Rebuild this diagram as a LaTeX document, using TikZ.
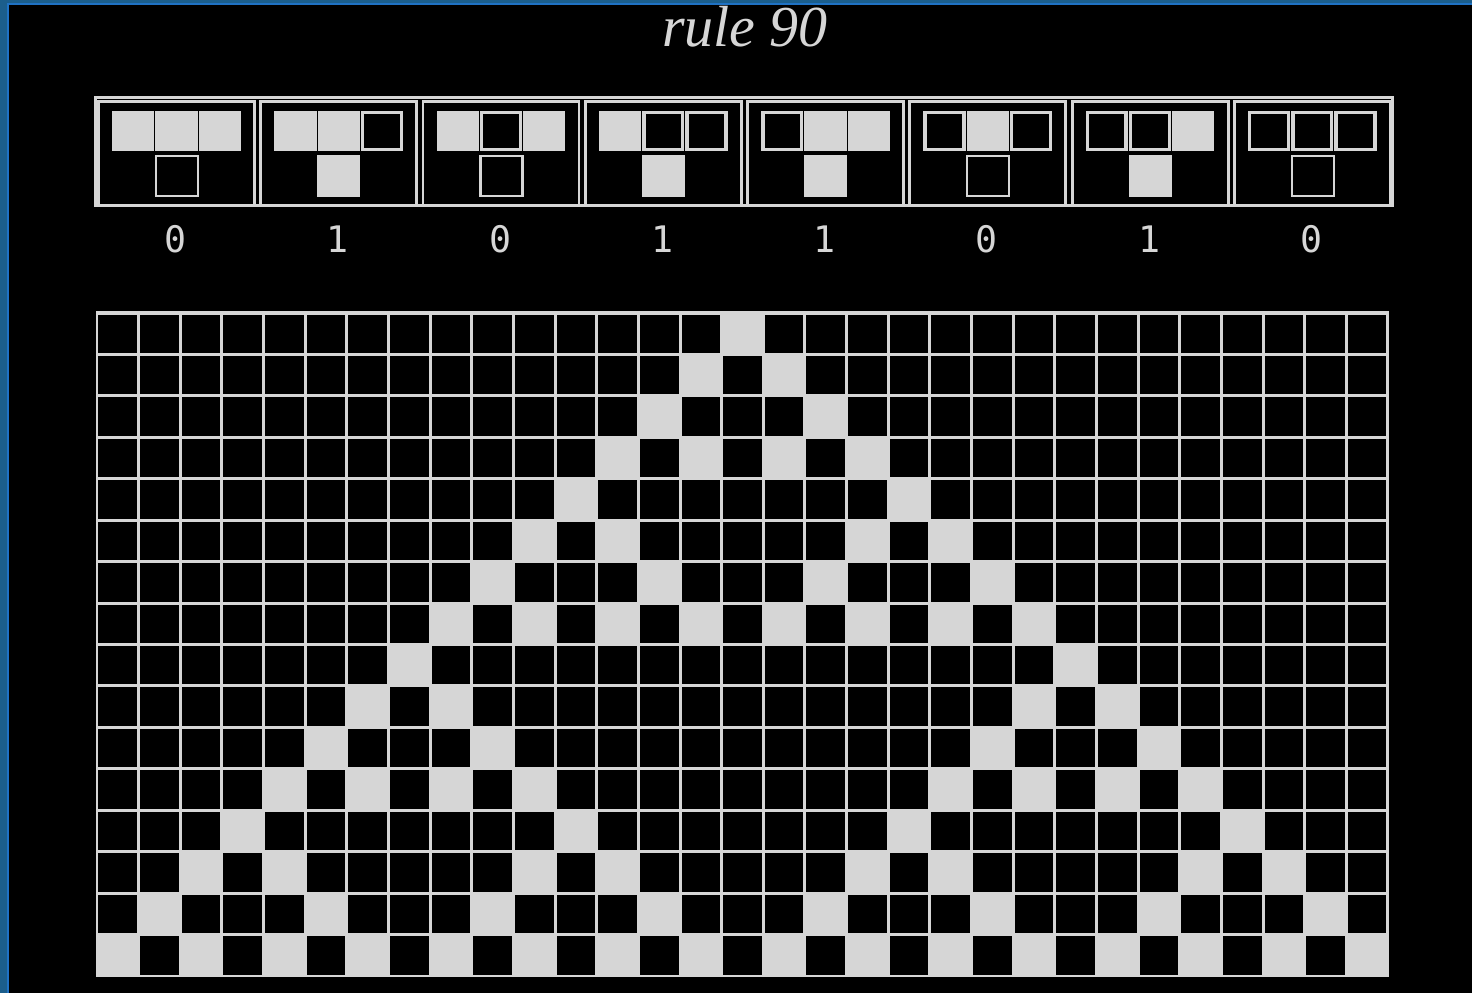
\documentclass[tikz,border=0pt]{standalone}
\usepackage{fontspec}
\usetikzlibrary{positioning}
\newfontfamily\titlefont{Liberation Serif}
\newfontfamily\digitfont{DejaVu Sans Mono}
\definecolor{cgray}{RGB}{214,214,214}
\definecolor{wblue}{RGB}{27,94,140}
\definecolor{wedge}{RGB}{31,114,196}

\begin{document}
\begin{tikzpicture}[
  every node/.style={text=cgray},
  frameline/.style={draw=cgray,line width=0.85pt},
  cellline/.style={draw=cgray,line width=0.85pt},
  oncell/.style={fill=cgray,draw=black,line width=0.3pt},
  offcell/.style={fill=black},
  outlbl/.style={font=\digitfont\fontsize{10.4}{12}\selectfont,anchor=base}]

\useasboundingbox (0,0) rectangle (14.72,9.93);
\fill[black] (0,0) rectangle (14.72,9.93);

% window edge
\fill[wblue] (0,0) rectangle (0.07,9.93);
\fill[wblue] (0,9.90) rectangle (14.72,9.93);
\draw[wedge,line width=0.6pt] (0.08,0)--(0.08,9.893)--(14.72,9.893);

\node[font=\titlefont\itshape\fontsize{16.5}{20}\selectfont,anchor=base] (title) at (7.45,9.46) {rule 90};

% ---- rule table ----
\draw[frameline] (0.955,8.95) rectangle (13.925,7.87);
\foreach \a/\b/\c/\o [count=\i from 0] in
  {1/1/1/0,1/1/0/1,1/0/1/0,1/0/0/1,0/1/1/1,0/1/0/0,0/0/1/1,0/0/0/0}{
  \pgfmathsetmacro\X{0.95+1.6225*\i}
  \draw[frameline] (\X+0.035,8.91) rectangle (\X+1.595,7.87);
  \foreach \s [count=\j from 0] in {\a,\b,\c}{
    \fill[oncell] (\X+0.165+0.433*\j,8.83) rectangle ++(0.433,-0.42);
    \ifnum\s=0
      \fill[offcell] (\X+0.205+0.433*\j,8.79) rectangle ++(0.353,-0.34);
    \fi
  }
  \ifnum\o=1
    \fill[cgray] (\X+0.60,8.38) rectangle (\X+1.03,7.96);
  \else
    \draw[cgray,line width=0.6pt] (\X+0.61,8.37) rectangle (\X+1.03,7.97);
  \fi
  \node[outlbl] (out\i) at (\X+0.805,7.40) {\o};
}

% ---- evolution, 16 steps from one cell ----
\begin{scope}[shift={(0.97,0.17)},x=0.41645cm,y=0.41438cm]
  \foreach \r/\lit in {0/{0},1/{-1,1},2/{-2,2},3/{-3,-1,1,3},4/{-4,4},
      5/{-5,-3,3,5},6/{-6,-2,2,6},7/{-7,-5,-3,-1,1,3,5,7},8/{-8,8},
      9/{-9,-7,7,9},10/{-10,-6,6,10},11/{-11,-9,-7,-5,5,7,9,11},
      12/{-12,-4,4,12},13/{-13,-11,-5,-3,3,5,11,13},
      14/{-14,-10,-6,-2,2,6,10,14},
      15/{-15,-13,-11,-9,-7,-5,-3,-1,1,3,5,7,9,11,13,15}}{
    \foreach \d in \lit
      \fill[cgray] (15+\d,15-\r) rectangle ++(1,1);
  }
  \draw[cellline,step=1] (0,0) grid (31,16);
  \draw[cellline] (0,0) rectangle (31,16);
\end{scope}
\end{tikzpicture}
\end{document}
